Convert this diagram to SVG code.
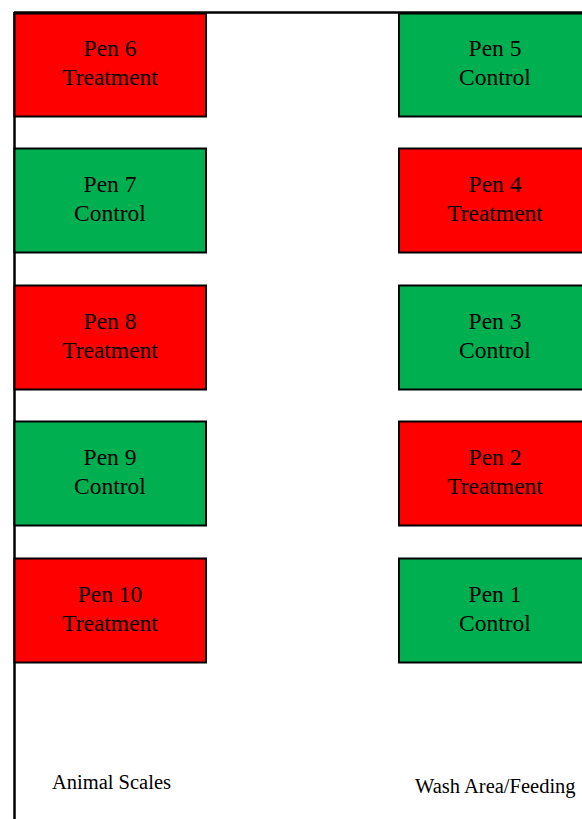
<svg xmlns="http://www.w3.org/2000/svg" width="582" height="819" viewBox="0 0 582 819">
<style>
.pen{stroke:#000;stroke-width:2}
.g{fill:#00B050}
.r{fill:#FF0000}
text{font-family:"Liberation Serif","Times New Roman",serif;fill:#000}
.pt{font-size:23.5px;text-anchor:middle}
.lb{font-size:20.5px}
</style>
<rect width="582" height="819" fill="#fff"/>
<g id="walls" stroke="#000" stroke-width="2.5" fill="none">
<line x1="14" y1="12.5" x2="582" y2="12.5"/>
<line x1="14.5" y1="12" x2="14.5" y2="819"/>
</g>
<g id="pen6"><rect class="pen r" x="14.5" y="13.5" width="191.5" height="103"/><text class="pt" x="110" y="56">Pen 6</text><text class="pt" x="110" y="85">Treatment</text></g>
<g id="pen7"><rect class="pen g" x="14.5" y="148.5" width="191.5" height="104"/><text class="pt" x="110" y="192">Pen 7</text><text class="pt" x="110" y="221">Control</text></g>
<g id="pen8"><rect class="pen r" x="14.5" y="285.5" width="191.5" height="104"/><text class="pt" x="110" y="329">Pen 8</text><text class="pt" x="110" y="358">Treatment</text></g>
<g id="pen9"><rect class="pen g" x="14.5" y="421.5" width="191.5" height="104"/><text class="pt" x="110" y="465">Pen 9</text><text class="pt" x="110" y="494">Control</text></g>
<g id="pen10"><rect class="pen r" x="14.5" y="558.5" width="191.5" height="104"/><text class="pt" x="110" y="602">Pen 10</text><text class="pt" x="110" y="631">Treatment</text></g>
<g id="pen5"><rect class="pen g" x="399" y="13.5" width="186" height="103"/><text class="pt" x="495" y="56">Pen 5</text><text class="pt" x="495" y="85">Control</text></g>
<g id="pen4"><rect class="pen r" x="399" y="148.5" width="186" height="104"/><text class="pt" x="495" y="192">Pen 4</text><text class="pt" x="495" y="221">Treatment</text></g>
<g id="pen3"><rect class="pen g" x="399" y="285.5" width="186" height="104"/><text class="pt" x="495" y="329">Pen 3</text><text class="pt" x="495" y="358">Control</text></g>
<g id="pen2"><rect class="pen r" x="399" y="421.5" width="186" height="104"/><text class="pt" x="495" y="465">Pen 2</text><text class="pt" x="495" y="494">Treatment</text></g>
<g id="pen1"><rect class="pen g" x="399" y="558.5" width="186" height="104"/><text class="pt" x="495" y="602">Pen 1</text><text class="pt" x="495" y="631">Control</text></g>
<g id="labels">
<text class="lb" x="52" y="789">Animal Scales</text>
<text class="lb" x="415" y="793">Wash Area/Feeding</text>
</g>
</svg>
